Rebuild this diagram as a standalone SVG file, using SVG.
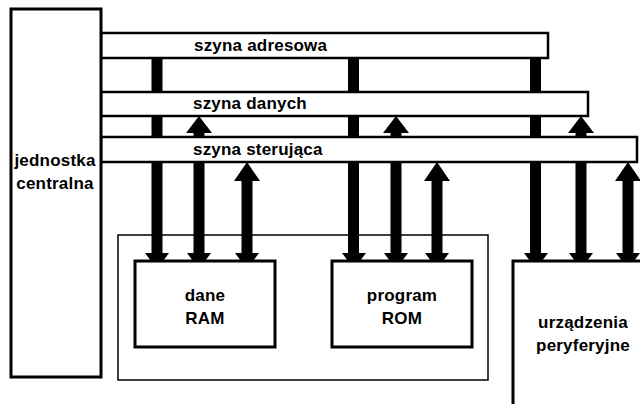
<svg xmlns="http://www.w3.org/2000/svg" width="640" height="404" viewBox="0 0 640 404">
<style>
.box{fill:#fff;stroke:#000;stroke-width:3}
.bus{fill:#fff;stroke:#000;stroke-width:2.5}
.mod{fill:none;stroke:#000;stroke-width:1.5}
.bar{fill:#000;stroke:none}
text{font-family:"Liberation Sans",Arial,sans-serif;font-weight:bold;font-size:17px;letter-spacing:0.2px;fill:#000}
.c{text-anchor:middle}
</style>
<rect x="0" y="0" width="640" height="404" fill="#fff"/>
<g id="memory-module"><rect class="mod" x="118" y="235" width="370" height="145"/></g>
<g id="connectors">
  <path class="bar" d="M151.5,58H162.5V253H169L163,261H151L145,253H151.5Z"/>
  <path class="bar" d="M348,58H359V253H366L360,261H348L342,253H348Z"/>
  <path class="bar" d="M530,58H541V253H548L542,261H530L524,253H530Z"/>
  <path class="bar" d="M199,116L212,133H204.5V253H211L205,261H193L187,253H193.5V133H186Z"/>
  <path class="bar" d="M396,116L409,133H401.5V253H408L402,261H390L384,253H390.5V133H383Z"/>
  <path class="bar" d="M581,116L594,133H586.5V253H593L587,261H575L569,253H575.5V133H568Z"/>
  <path class="bar" d="M247,162L260,181H252.5V253H259L253,261H241L235,253H241.5V181H234Z"/>
  <path class="bar" d="M437,162L450,181H442.5V253H449L443,261H431L425,253H431.5V181H424Z"/>
  <path class="bar" d="M628,162L641,181H633.5V253H640L634,261H622L616,253H622.5V181H615Z"/>
</g>
<g id="bus-control"><rect class="bus" x="101" y="137" width="536" height="25"/><text x="193" y="155">szyna sterująca</text></g>
<g id="bus-data"><rect class="bus" x="101" y="92" width="487" height="24"/><text x="193" y="109">szyna danych</text></g>
<g id="bus-address"><rect class="bus" x="101" y="33" width="447" height="25"/><text x="194" y="51">szyna adresowa</text></g>
<g id="cpu"><rect class="box" x="11" y="9" width="90" height="368"/><text class="c" x="55" y="166">jednostka</text><text class="c" x="55" y="189">centralna</text></g>
<g id="ram"><rect class="box" x="135" y="261" width="140" height="86"/><text class="c" x="205" y="301">dane</text><text class="c" x="205" y="324">RAM</text></g>
<g id="rom"><rect class="box" x="332" y="261" width="140" height="86"/><text class="c" x="402" y="301">program</text><text class="c" x="402" y="324">ROM</text></g>
<g id="peripherals"><rect class="box" x="513" y="261" width="140" height="160"/><text class="c" x="583" y="328">urządzenia</text><text class="c" x="583" y="351">peryferyjne</text></g>
</svg>
